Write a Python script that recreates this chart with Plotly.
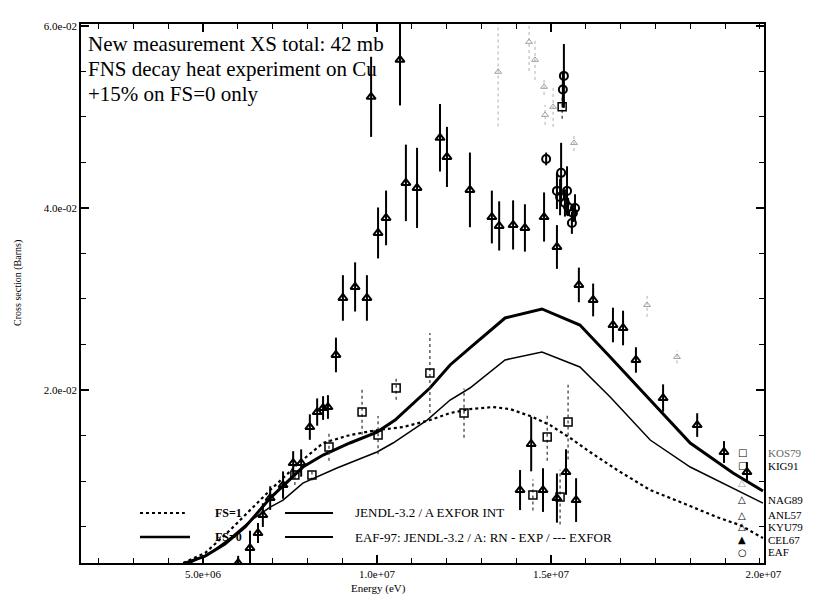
import plotly.graph_objects as go

# ---------------- curves (energy in MeV, cross section in barns) ----------------
thick_E = [4.48, 5.06, 5.63, 6.21, 6.93, 7.87, 8.45, 9.22, 10.0, 10.52, 11.52, 12.10, 12.67, 13.68, 14.74, 15.83, 16.70, 17.85, 19.0, 20.23, 21.09]
thick_S = [0.00099, 0.00176, 0.00308, 0.00495, 0.00813, 0.01154, 0.01286, 0.01418, 0.01538, 0.01670, 0.02022, 0.02275, 0.02462, 0.02791, 0.02890, 0.02714, 0.02363, 0.01890, 0.01418, 0.01088, 0.00890]

thin_E = [4.63, 5.20, 5.78, 6.35, 6.93, 7.30, 7.87, 8.85, 10.0, 10.46, 11.44, 12.10, 12.67, 13.68, 14.74, 15.83, 16.70, 17.85, 19.0, 20.23, 21.09]
thin_S = [0.00099, 0.00209, 0.00374, 0.00560, 0.00714, 0.00791, 0.00978, 0.01143, 0.01319, 0.01418, 0.01670, 0.01890, 0.02022, 0.02330, 0.02418, 0.02253, 0.01923, 0.01451, 0.01154, 0.00923, 0.00758]

dot_E = [4.43, 5.06, 5.78, 6.35, 6.93, 7.79, 8.45, 9.22, 10.0, 10.75, 11.52, 12.10, 12.67, 13.33, 13.82, 14.48, 14.97, 15.55, 16.12, 16.90, 17.85, 18.79, 19.77, 20.43, 21.09]
dot_S = [0.00099, 0.00209, 0.00462, 0.00681, 0.00901, 0.01209, 0.01418, 0.01505, 0.01560, 0.01593, 0.01670, 0.01747, 0.01791, 0.01813, 0.01791, 0.01703, 0.01615, 0.01473, 0.01319, 0.01121, 0.00901, 0.00758, 0.00604, 0.00516, 0.00374]

# ---------------- measured data ----------------
tri_E = [6.01, 6.35, 6.58, 6.72, 6.93, 7.30, 7.59, 7.82, 8.07, 8.28, 8.45, 8.59, 8.82, 9.02, 9.37, 9.71,
         10.03, 10.26, 9.83, 10.66, 10.83, 11.15, 11.81, 12.01, 12.67, 13.30, 13.51, 13.91, 14.25, 14.80, 15.17,
         15.80, 16.21, 16.78, 17.07, 17.44, 18.22, 19.20, 19.97, 20.63, 14.43, 14.11, 14.77, 15.17, 15.72, 15.43]
tri_S = [0.00099, 0.00264, 0.00429, 0.00626, 0.00813, 0.00956, 0.01198, 0.01198, 0.01593, 0.01758, 0.01802, 0.01813, 0.02385, 0.03011, 0.03132, 0.03011,
         0.03725, 0.03890, 0.05220, 0.05626, 0.04275, 0.04220, 0.04770, 0.04560, 0.04198, 0.03900, 0.03802, 0.03813, 0.03780, 0.03900, 0.03571,
         0.03154, 0.02989, 0.02714, 0.02681, 0.02330, 0.01912, 0.01615, 0.01319, 0.01099, 0.01407, 0.00901, 0.00901, 0.00813, 0.00791, 0.01099]
tri_err = [0.0008, 0.0019, 0.0011, 0.0013, 0.0013, 0.0015, 0.0013, 0.0015, 0.0014, 0.0015, 0.0013, 0.0013, 0.0019, 0.0025, 0.0027, 0.0025,
           0.0028, 0.0030, 0.0044, 0.0050, 0.0042, 0.0044, 0.0037, 0.0033, 0.0041, 0.0029, 0.0027, 0.0027, 0.0026, 0.0027, 0.0024,
           0.0019, 0.0018, 0.0019, 0.0019, 0.0014, 0.0015, 0.0013, 0.0012, 0.0011, 0.0030, 0.0022, 0.0024, 0.0027, 0.0024, 0.0025]

sq_E = [7.64, 8.13, 8.62, 9.57, 10.03, 10.55, 11.52, 12.50, 14.48, 14.89, 15.26, 15.49, 15.32]
sq_S = [0.01066, 0.01066, 0.01374, 0.01758, 0.01505, 0.02022, 0.02187, 0.01747, 0.00846, 0.01484, 0.00824, 0.01648, 0.05110]
sq_err = [0.0011, 0.0006, 0.0015, 0.0025, 0.0021, 0.0013, 0.0044, 0.0027, 0.0017, 0.0026, 0.0030, 0.0041, 0.0013]

circ_E = [14.86, 15.37, 15.29, 15.17, 15.26, 15.46, 15.40, 15.69, 15.63, 15.60, 15.49, 15.34]
circ_S = [0.04538, 0.05450, 0.04385, 0.04187, 0.04120, 0.04187, 0.04055, 0.04000, 0.03945, 0.03835, 0.04010, 0.05300]
circ_err = [0.0007, 0.0035, 0.0033, 0.0020, 0.0020, 0.0027, 0.0015, 0.0015, 0.0010, 0.0012, 0.0010, 0.0020]

grey_E = [13.48, 14.37, 14.54, 14.80, 14.83, 15.06, 15.66, 17.76, 18.62]
grey_S = [0.05495, 0.05824, 0.05626, 0.05330, 0.05022, 0.05110, 0.04714, 0.02934, 0.02363]
grey_err = [0.0060, 0.0032, 0.0022, 0.0009, 0.0011, 0.0022, 0.0009, 0.0013, 0.0007]

x_tick_vals = [5e6, 1e7, 1.5e7, 2.11e7]
x_tick_text = ["5.0e+06", "1.0e+07", "1.5e+07", "2.0e+07"]
y_tick_vals = [0.02, 0.04, 0.06]
y_tick_text = ["2.0e-02", "4.0e-02", "6.0e-02"]

right_labels = ["KOS79", "KIG91", "", "NAG89", "ANL57", "KYU79", "CEL67", "EAF"]
right_symbols = ["□", "□", "△", "△", "△", "△", "▲", "○"]

SERIF = "Liberation Serif"
MEV = 1e6

fig = go.Figure()


def seg(E, S, err):
    xs, ys = [], []
    for e, s, d in zip(E, S, err):
        xs += [e * MEV, e * MEV, None]
        ys += [s - d, s + d, None]
    return xs, ys


# curves
fig.add_trace(go.Scatter(x=[e * MEV for e in dot_E], y=dot_S, mode="lines",
                         line=dict(color="black", width=2.2, dash="dot")))
fig.add_trace(go.Scatter(x=[e * MEV for e in thick_E], y=thick_S, mode="lines",
                         line=dict(color="black", width=3)))
fig.add_trace(go.Scatter(x=[e * MEV for e in thin_E], y=thin_S, mode="lines",
                         line=dict(color="black", width=1.5)))

# error bars
gx, gy = seg(grey_E, grey_S, grey_err)
fig.add_trace(go.Scatter(x=gx, y=gy, mode="lines", line=dict(color="#b0b0b0", width=1, dash="dot")))
sx, sy = seg(sq_E, sq_S, sq_err)
fig.add_trace(go.Scatter(x=sx, y=sy, mode="lines", line=dict(color="#333333", width=1.2, dash="dot")))
tx, ty = seg(tri_E, tri_S, tri_err)
fig.add_trace(go.Scatter(x=tx, y=ty, mode="lines", line=dict(color="black", width=2)))
cx, cy = seg(circ_E, circ_S, circ_err)
fig.add_trace(go.Scatter(x=cx, y=cy, mode="lines", line=dict(color="black", width=2)))

# markers
fig.add_trace(go.Scatter(x=[e * MEV for e in grey_E], y=grey_S, mode="markers",
                         marker=dict(symbol="triangle-up-open", size=6, color="#a0a0a0", line=dict(width=1))))
fig.add_trace(go.Scatter(x=[e * MEV for e in sq_E], y=sq_S, mode="markers",
                         marker=dict(symbol="square-open", size=8, color="black", line=dict(width=1.5))))
fig.add_trace(go.Scatter(x=[e * MEV for e in tri_E], y=tri_S, mode="markers",
                         marker=dict(symbol="triangle-up-open", size=8, color="black", line=dict(width=2))))
fig.add_trace(go.Scatter(x=[e * MEV for e in circ_E], y=circ_S, mode="markers",
                         marker=dict(symbol="circle-open", size=8, color="black", line=dict(width=2))))

# ---------- annotations ----------
ann = []
for i, line in enumerate(["New measurement XS total: 42 mb",
                          "FNS decay heat experiment on Cu",
                          "+15% on FS=0 only"]):
    ann.append(dict(x=0.008, y=0.963 - i * 0.0468, xref="paper", yref="paper", text=line,
                    showarrow=False, xanchor="left", yanchor="middle",
                    font=dict(family=SERIF, size=21, color="black")))

ann.append(dict(x=0.435, y=-0.048, xref="paper", yref="paper", text="Energy (eV)", showarrow=False,
                xanchor="center", yanchor="middle", font=dict(family=SERIF, size=11, color="black")))
ann.append(dict(x=-0.092, y=0.52, xref="paper", yref="paper", text="Cross section (Barns)", showarrow=False,
                textangle=-90, xanchor="center", yanchor="middle", font=dict(family=SERIF, size=10, color="black")))

# bottom legend
row1, row2 = 0.0928, 0.0482
ann.append(dict(x=0.193, y=row1, xref="paper", yref="paper", text="<b>FS=1</b>", showarrow=False,
                xanchor="left", yanchor="middle", font=dict(family=SERIF, size=12, color="black")))
ann.append(dict(x=0.193, y=row2, xref="paper", yref="paper", text="<b>FS=0</b>", showarrow=False,
                xanchor="left", yanchor="middle", font=dict(family=SERIF, size=12, color="black")))
ann.append(dict(x=0.398, y=row1, xref="paper", yref="paper", text="JENDL-3.2 / A EXFOR INT", showarrow=False,
                xanchor="left", yanchor="middle", font=dict(family=SERIF, size=13, color="black")))
ann.append(dict(x=0.398, y=row2, xref="paper", yref="paper", text="EAF-97: JENDL-3.2 / A: RN - EXP / --- EXFOR",
                showarrow=False, xanchor="left", yanchor="middle", font=dict(family=SERIF, size=13, color="black")))

shapes = [
    dict(type="line", xref="paper", yref="paper", x0=0.0864, x1=0.152, y0=row1, y1=row1,
         line=dict(color="black", width=2, dash="dot")),
    dict(type="line", xref="paper", yref="paper", x0=0.2987, x1=0.369, y0=row1, y1=row1,
         line=dict(color="black", width=2)),
    dict(type="line", xref="paper", yref="paper", x0=0.0864, x1=0.1596, y0=row2, y1=row2,
         line=dict(color="black", width=2.5)),
    dict(type="line", xref="paper", yref="paper", x0=0.2987, x1=0.369, y0=row2, y1=row2,
         line=dict(color="black", width=1.8)),
]

# right legend
right_y = [0.2041, 0.180, 0.150, 0.1169, 0.089, 0.0668, 0.0427, 0.0204]
for i, (lab, sym) in enumerate(zip(right_labels, right_symbols)):
    col = "#a0a0a0" if i == 2 else "black"
    ann.append(dict(x=0.9678, y=right_y[i], xref="paper", yref="paper", text=sym, showarrow=False,
                    xanchor="center", yanchor="middle", font=dict(family="DejaVu Sans", size=10, color=col)))
    if lab:
        ann.append(dict(x=1.003, y=right_y[i], xref="paper", yref="paper", text=lab, showarrow=False,
                        xanchor="left", yanchor="middle",
                        font=dict(family=SERIF, size=11, color="#666666" if i == 0 else "black")))

# the page body has an 8 px margin: size and margins compensate for it
fig.update_layout(
    width=809, height=589,
    margin=dict(l=73, r=53, t=16, b=34),
    paper_bgcolor="white", plot_bgcolor="white",
    showlegend=False,
    annotations=ann, shapes=shapes,
    xaxis=dict(range=[1.494e6, 2.112e7], showline=True, linecolor="black", linewidth=1.5, mirror="ticks",
               ticks="inside", ticklen=8, tickwidth=1.5, tickcolor="black",
               tickmode="array", tickvals=x_tick_vals, ticktext=x_tick_text,
               tickfont=dict(family=SERIF, size=11, color="black"),
               minor=dict(ticks="inside", ticklen=5, tick0=0, dtick=1e6, tickcolor="black", tickwidth=1),
               showgrid=False, zeroline=False, automargin=False),
    yaxis=dict(range=[0.001, 0.0602], showline=True, linecolor="black", linewidth=1.5, mirror="ticks",
               ticks="inside", ticklen=8, tickwidth=1.5, tickcolor="black",
               tickmode="array", tickvals=y_tick_vals, ticktext=y_tick_text,
               tickfont=dict(family=SERIF, size=11, color="black"),
               minor=dict(ticks="inside", ticklen=5, tick0=0, dtick=0.005, tickcolor="black", tickwidth=1),
               showgrid=False, zeroline=False, automargin=False),
)

fig.write_html("out.html")
